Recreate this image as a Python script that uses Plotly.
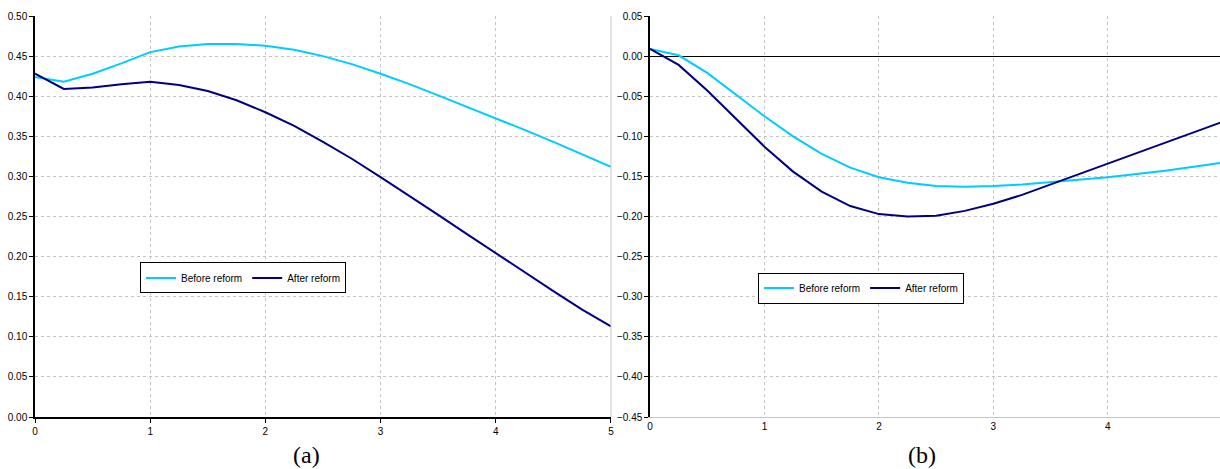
import plotly.graph_objects as go

t = [0, 0.25, 0.5, 0.75, 1, 1.25, 1.5, 1.75, 2, 2.25, 2.5, 2.75, 3, 3.25, 3.5, 3.75, 4, 4.25, 4.5, 4.75, 5]

a_before = [0.424, 0.418, 0.428, 0.441, 0.455, 0.462, 0.465, 0.465, 0.463, 0.458, 0.450, 0.440, 0.428, 0.415, 0.401, 0.387, 0.373, 0.358, 0.343, 0.328, 0.312]
a_after = [0.428, 0.409, 0.411, 0.415, 0.418, 0.414, 0.4065, 0.395, 0.380, 0.363, 0.343, 0.322, 0.299, 0.276, 0.252, 0.228, 0.204, 0.180, 0.157, 0.134, 0.113]

b_before = [0.009, 0.001, -0.021, -0.048, -0.075, -0.100, -0.122, -0.139, -0.151, -0.158, -0.162, -0.163, -0.162, -0.160, -0.157, -0.154, -0.151, -0.147, -0.143, -0.138, -0.133]
b_after = [0.009, -0.011, -0.043, -0.078, -0.113, -0.144, -0.169, -0.187, -0.197, -0.200, -0.199, -0.193, -0.184, -0.173, -0.160, -0.147, -0.134, -0.121, -0.108, -0.095, -0.082]

names = ["Before reform", "After reform"]
colors = ["#00CCFF", "#000080"]
panel_labels = ["(a)", "(b)"]

tick_font = dict(family="Liberation Sans Narrow, Liberation Sans, Arial", size=10, color="black")
leg_font = dict(family="Liberation Sans Narrow, Liberation Sans, Arial", size=10, color="black")

fig = go.Figure()

for i, (ys, c) in enumerate(zip([a_before, a_after], colors)):
    fig.add_trace(go.Scatter(x=t, y=ys, mode="lines", name=names[i],
                             line=dict(color=c, width=2), xaxis="x", yaxis="y",
                             legend="legend"))
for i, (ys, c) in enumerate(zip([b_before, b_after], colors)):
    fig.add_trace(go.Scatter(x=t, y=ys, mode="lines", name=names[i],
                             line=dict(color=c, width=2), xaxis="x2", yaxis="y2",
                             legend="legend2"))

grid = dict(showgrid=True, gridcolor="#c4c4c4", griddash="dot", gridwidth=1, automargin=False)

fig.update_layout(
    width=1220, height=469,
    margin=dict(l=0, r=0, t=16, b=52, autoexpand=False),
    paper_bgcolor="white", plot_bgcolor="white",
    xaxis=dict(domain=[0.0287, 0.5008], range=[0, 5], dtick=1, tick0=0,
               showline=True, linecolor="black", linewidth=1.5,
               ticks="outside", ticklen=4, tickcolor="black",
               tickfont=tick_font, zeroline=False, **grid),
    yaxis=dict(domain=[0, 1], range=[0, 0.5], dtick=0.05, tick0=0,
               tickformat=".2f", showline=True, linecolor="black", linewidth=1.5,
               ticks="outside", ticklen=4, tickcolor="black",
               tickfont=tick_font, zeroline=False, **grid),
    xaxis2=dict(domain=[0.5328, 1.0], range=[0, 4.98], dtick=1, tick0=0,
                showline=True, linecolor="#c4c4c4", linewidth=1,
                ticks="", tickfont=tick_font, zeroline=False, anchor="y2", **grid),
    yaxis2=dict(domain=[0, 1], range=[-0.45, 0.05], dtick=0.05, tick0=0,
                tickformat=".2f", showline=True, linecolor="black", linewidth=1.5,
                ticks="outside", ticklen=4, tickcolor="black",
                tickfont=tick_font, zeroline=True, zerolinecolor="black",
                zerolinewidth=1, anchor="x2", **grid),
    legend=dict(orientation="h", x=0.1148, y=0.3853, xanchor="left", yanchor="top",
                bordercolor="black", borderwidth=1, bgcolor="white",
                font=leg_font, itemwidth=30, tracegroupgap=0),
    legend2=dict(orientation="h", x=0.6213, y=0.3603, xanchor="left", yanchor="top",
                 bordercolor="black", borderwidth=1, bgcolor="white",
                 font=leg_font, itemwidth=30, tracegroupgap=0),
    showlegend=True,
)

# Right border of panel (a)
fig.add_shape(type="line", xref="x domain", yref="y domain", x0=1, x1=1, y0=0, y1=1,
              line=dict(color="#c4c4c4", width=1))

for lbl, xc in zip(panel_labels, [0.2516, 0.7557]):
    fig.add_annotation(text=lbl, xref="paper", yref="paper", x=xc, y=-0.0948,
                       showarrow=False, xanchor="center", yanchor="middle",
                       font=dict(family="Liberation Serif, DejaVu Serif", size=24, color="black"))

fig.write_html("out.html")
